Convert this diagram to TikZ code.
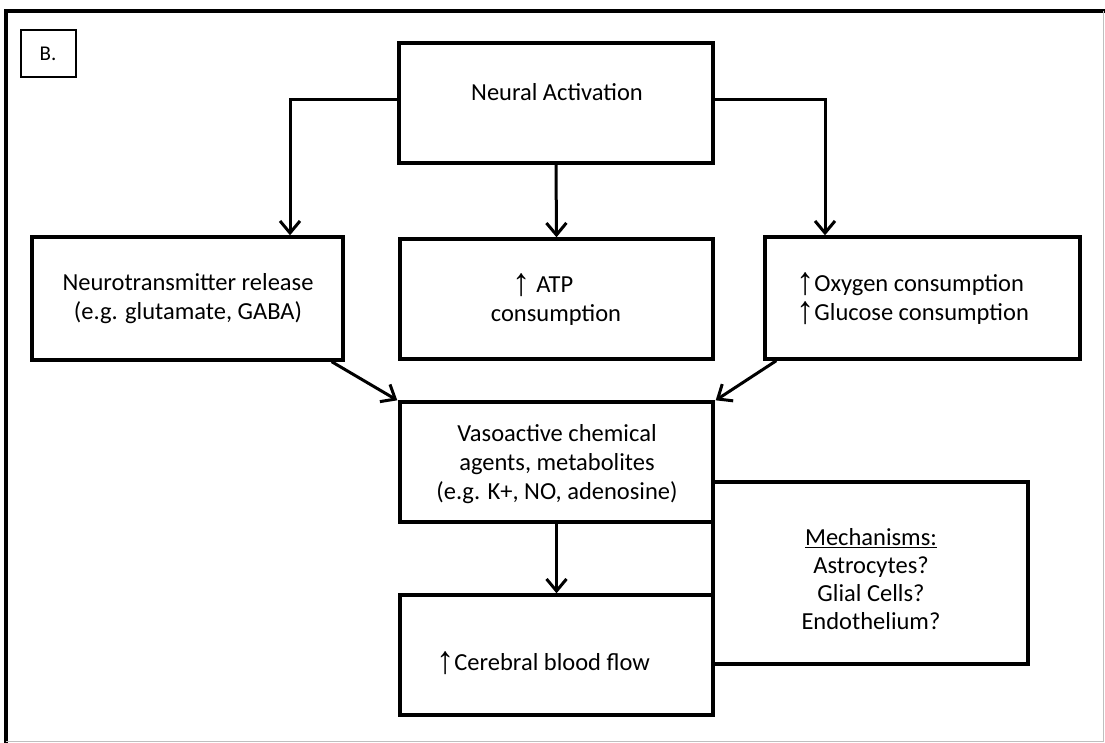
\documentclass[tikz,border=0pt]{standalone}
\usepackage{graphicx}
\usepackage{fontspec}
\setmainfont{Carlito}
\newfontfamily\arrfont{Liberation Sans}
\usetikzlibrary{arrows.meta}
\newcommand{\upar}{\smash{\raisebox{-3pt}{\scalebox{1.35}[1.45]{\arrfont\fontsize{27}{29}\selectfont ↑}}}}
\begin{document}
\begin{tikzpicture}[x=1pt,y=-1pt,
  box/.style={draw, line width=3.4pt, inner sep=0pt, rectangle},
  txt/.style={inner sep=0pt, font=\fontsize{24.5}{29}\selectfont, align=center},
  arr/.style={line width=3pt, -{Straight Barb[length=12pt,width=20pt,line width=3pt]}}]
\useasboundingbox (0,0) rectangle (1105,743);
% frame
\draw[line width=3.4pt] (6,743) -- (6,11) -- (1105,11);
\draw[black!25, line width=1.2pt] (1103.5,11) -- (1103.5,741.5) -- (6,741.5);
% boxes
\node[box, line width=2pt, minimum width=55, minimum height=47] (bb) at (48.5,53.5) {};
\node[box, minimum width=314, minimum height=120] (na) at (556,103) {};
\node[box, minimum width=311, minimum height=123] (nt) at (187.5,298.5) {};
\node[box, minimum width=313, minimum height=120] (atp) at (556.5,299) {};
\node[box, minimum width=315, minimum height=122] (ox) at (922.5,298) {};
\node[box, minimum width=313, minimum height=120] (va) at (556.5,462) {};
\node[box, minimum width=313, minimum height=120] (cbf) at (556.5,655) {};
\node[box, minimum width=315, minimum height=182] (mech) at (870.5,573) {};
% texts
\node[txt, font=\fontsize{21}{24}\selectfont] (tb) at (48,54) {B.};
\node[txt] (tna) at (557,92) {Neural Activation};
\node[txt] (tnt) at (188,299) {Neurotransmitter release\\(e.g. glutamate, GABA)};
\node[txt] (tatpa) at (543,285) {\upar\ ATP};
\node[txt] (tatpb) at (556,315) {consumption};
\node[txt, align=left, anchor=west] (tox) at (796,300) {\upar Oxygen consumption\\\upar Glucose consumption};
\node[txt] (tva) at (557,464) {Vasoactive chemical\\agents, metabolites\\(e.g. K+, NO, adenosine)};
\node[txt, anchor=west] (tcbf) at (436,662) {\upar Cerebral blood flow};
\node[txt, font=\fontsize{24.5}{28}\selectfont] (tme) at (871,579) {\underline{Mechanisms:}\\Astrocytes?\\Glial Cells?\\Endothelium?};
% connectors
\draw[arr] ([yshift=3pt]na.west) -| ([xshift=102.5pt]nt.north);
\draw[arr] ([yshift=3pt]na.east) -| ([xshift=-97.5pt]ox.north);
\draw[arr] (na.south) -- (atp.north);
\draw[arr] ([xshift=-13pt]nt.south east) -- ([xshift=-1pt]va.north west);
\draw[arr] ([xshift=13pt]ox.south west) -- ([xshift=1pt]va.north east);
\draw[arr] (va.south) -- (cbf.north);
\end{tikzpicture}
\end{document}
